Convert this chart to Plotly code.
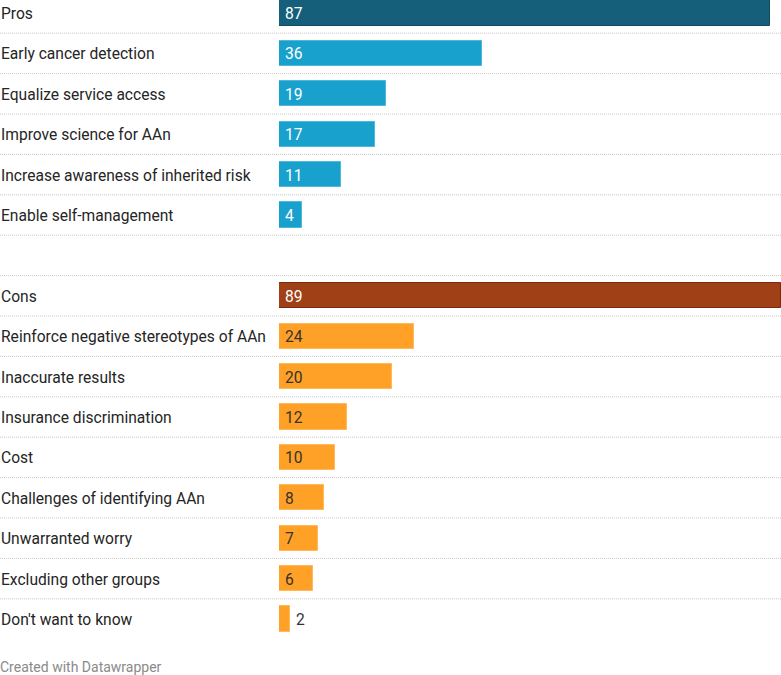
import plotly.graph_objects as go

pros_labels = ["Pros", "Early cancer detection", "Equalize service access",
               "Improve science for AAn", "Increase awareness of inherited risk",
               "Enable self-management"]
pros_values = [87, 36, 19, 17, 11, 4]
cons_labels = ["Cons", "Reinforce negative stereotypes of AAn", "Inaccurate results",
               "Insurance discrimination", "Cost", "Challenges of identifying AAn",
               "Unwarranted worry", "Excluding other groups", "Don't want to know"]
cons_values = [89, 24, 20, 12, 10, 8, 7, 6, 2]

C_PROS_TOTAL = "#165f7b"
C_PROS = "#18a1cd"
C_CONS_TOTAL = "#a04016"
C_CONS = "#ffa126"

W, H = 781, 675
L_MARGIN = 279
PITCH = 40.4
TOP_CENTER = 13
PLOT_H = 640

labels = pros_labels + [""] + cons_labels
values = pros_values + [None] + cons_values
colors = ([C_PROS_TOTAL] + [C_PROS] * (len(pros_values) - 1) + ["rgba(0,0,0,0)"]
          + [C_CONS_TOTAL] + [C_CONS] * (len(cons_values) - 1))
line_colors = (["#0f4a61"] + ["#4fb7da"] * (len(pros_values) - 1) + ["rgba(0,0,0,0)"]
               + ["#7d2a0a"] + ["#ffb85c"] * (len(cons_values) - 1))
text_colors = (["#ffffff"] * len(pros_values) + ["#333"] + ["#ffffff"]
               + ["#333333"] * (len(cons_values) - 1))
ypos = list(range(len(labels)))

xmax = max(pros_values + cons_values)

fig = go.Figure()
fig.add_trace(go.Bar(
    x=[v if v is not None else 0 for v in values], y=ypos, orientation="h",
    marker=dict(color=colors, line=dict(color=line_colors, width=1)),
    width=0.62, hoverinfo="skip", showlegend=False,
))

plot_w = W - L_MARGIN
label_paper_x = -L_MARGIN / plot_w

annotations = []
for i, (lab, v) in enumerate(zip(labels, values)):
    if v is None:
        continue
    annotations.append(dict(
        x=label_paper_x, xref="paper", y=i, yref="y", text=lab,
        xanchor="left", yanchor="middle", showarrow=False, xshift=-1, yshift=-1,
        font=dict(family="Roboto", size=15.6, color="#252525"),
    ))
    inside = v >= 3
    annotations.append(dict(
        x=0 if inside else v, xref="x", y=i, yref="y", text=str(v),
        xanchor="left", yanchor="middle", showarrow=False, xshift=4, yshift=-1,
        font=dict(family="Roboto", size=15.6,
                  color=text_colors[i] if inside else "#333333"),
    ))

annotations.append(dict(
    x=label_paper_x, xref="paper", y=-(666 - PLOT_H) / PLOT_H, yref="paper",
    text="Created with Datawrapper", xanchor="left", yanchor="middle",
    showarrow=False, xshift=-2, yshift=-1,
    font=dict(family="Roboto", size=14, color="#8a8a8a"),
))

shapes = []
for i in range(len(labels) - 1):
    shapes.append(dict(
        type="line", xref="paper", x0=-L_MARGIN / plot_w, x1=1,
        yref="y", y0=i + 0.5, y1=i + 0.5,
        line=dict(color="#c8c8c8", width=1, dash="1px,1px"),
    ))

top = -TOP_CENTER / PITCH
bottom = top + PLOT_H / PITCH

fig.update_layout(
    width=W, height=H,
    margin=dict(l=L_MARGIN, r=0, t=0, b=H - PLOT_H, pad=0),
    plot_bgcolor="white", paper_bgcolor="white",
    xaxis=dict(range=[0, xmax], visible=False, fixedrange=True),
    yaxis=dict(range=[bottom, top], visible=False, fixedrange=True),
    annotations=annotations, shapes=shapes,
    bargap=0,
)

fig.write_html("out.html")
